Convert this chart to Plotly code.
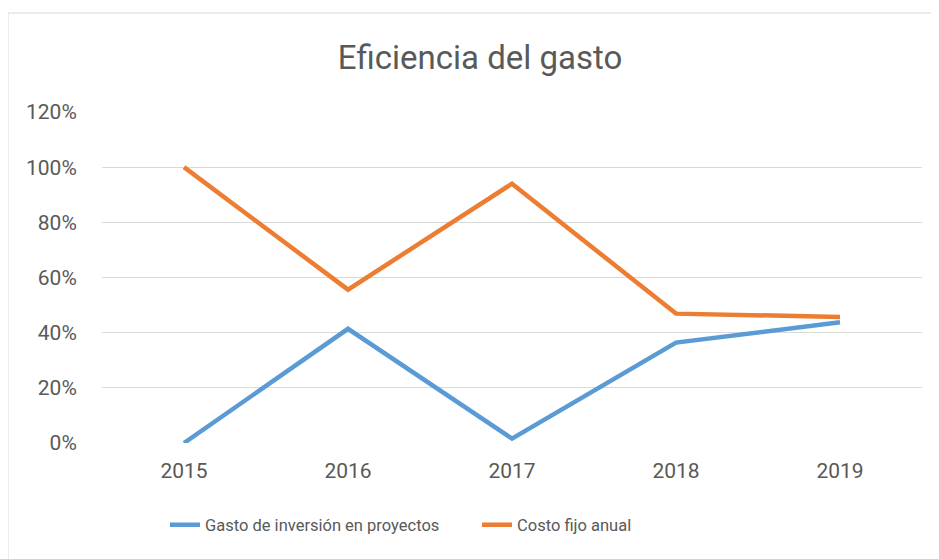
import plotly.graph_objects as go

years = ["2015", "2016", "2017", "2018", "2019"]
gasto_inversion = [0.0, 0.414, 0.016, 0.364, 0.438]
costo_fijo = [1.0, 0.556, 0.94, 0.469, 0.457]

fig = go.Figure()
fig.add_trace(go.Scatter(x=years, y=gasto_inversion, mode="lines",
                         name="Gasto de inversión en proyectos",
                         line=dict(color="#5B9BD5", width=4.5)))
fig.add_trace(go.Scatter(x=years, y=costo_fijo, mode="lines",
                         name="Costo fijo anual",
                         line=dict(color="#ED7D31", width=4.5)))

# page is rendered with an 8px body margin; work in figure coordinates
OFF = 8
W, H = 939 - OFF, 559 - OFF
ml, mt = 102 - OFF, 112 - OFF
mr = W - (922 - OFF)
mb = H - (443 - OFF)
pw, ph = W - ml - mr, H - mt - mb

def px(x):
    return (x - OFF - ml) / pw

def py(y):
    return (H - mb - (y - OFF)) / ph

fig.update_layout(
    width=W, height=H,
    margin=dict(l=ml, r=mr, t=mt, b=mb, autoexpand=False),
    paper_bgcolor="white", plot_bgcolor="white",
    font=dict(family="Roboto", color="#595959", size=17),
    title=dict(text="Eficiencia del gasto", x=(480 - OFF) / W, xanchor="center",
               xref="container", yref="container",
               y=1 - (57 - OFF) / H, yanchor="middle",
               font=dict(size=33, color="#595959")),
    xaxis=dict(type="category", range=[-0.5, 4.5], showgrid=False,
               showline=False, zeroline=False, ticks="outside", ticklen=9,
               tickcolor="rgba(0,0,0,0)",
               tickfont=dict(size=21, color="#595959")),
    yaxis=dict(range=[0, 1.2], dtick=0.2, tickformat=".0%",
               showgrid=True, gridcolor="#d9d9d9", gridwidth=1,
               zeroline=False, showline=False, ticks="outside", ticklen=20,
               tickcolor="rgba(0,0,0,0)",
               tickfont=dict(size=21, color="#595959")),
    legend=dict(orientation="h", x=(165 - OFF) / W, xanchor="left",
                xref="container", yref="container",
                y=1 - (525 - OFF) / H, yanchor="middle",
                font=dict(size=16.5, color="#595959"),
                entrywidth=267, entrywidthmode="pixels",
                tracegroupgap=0),
    showlegend=True,
    shapes=[dict(type="rect", xref="paper", yref="paper",
                 x0=px(8), x1=px(950), y0=py(570), y1=py(13),
                 line=dict(color="#d9d9d9", width=1), fillcolor="rgba(0,0,0,0)",
                 layer="below")],
)

fig.write_html("out.html")
